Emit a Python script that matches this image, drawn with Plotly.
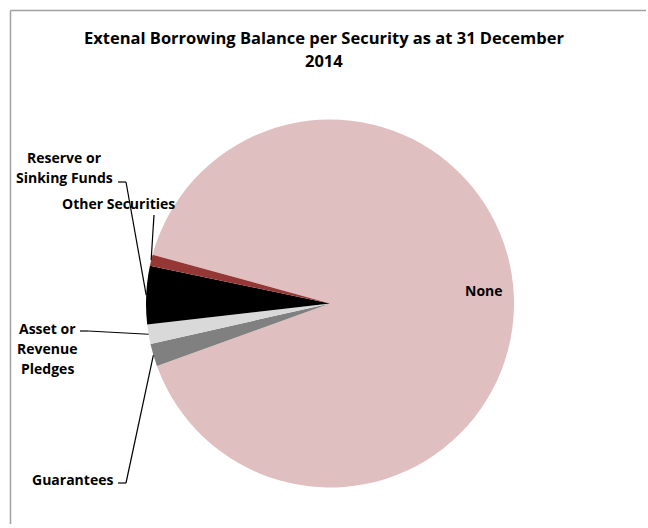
import math
import plotly.graph_objects as go

# Security categories and their share of the external borrowing balance (%)
categories = ["None", "Guarantees", "Asset or Revenue Pledges",
              "Reserve or Sinking Funds", "Other Securities"]
shares = [90.2, 2.0, 1.7, 5.1, 1.0]
colors = ["#E0BFC1", "#808080", "#D9D9D9", "#000000", "#953735"]

title_lines = ["Extenal Borrowing Balance per Security as at 31 December", "2014"]

W, H = 648, 528
FONT = "Open Sans"

# Pie geometry in pixels
CX, CY, R = 330.0, 303.5, 184.0
ROTATION = -74.6  # first slice starts here, degrees clockwise from 12 o'clock


def px(x, y):
    """Pixel position -> paper coordinates."""
    return x / W, 1 - y / H


def slice_edge_point(idx, frac=1.0):
    """Point on the rim at the mid-angle of slice idx (clockwise layout)."""
    total = sum(shares)
    start = ROTATION + 360.0 * sum(shares[:idx]) / total
    mid = start + 180.0 * shares[idx] / total
    a = math.radians(mid)
    return CX + frac * R * math.sin(a), CY - frac * R * math.cos(a)


fig = go.Figure(go.Pie(
    labels=categories,
    values=shares,
    sort=False,
    direction="clockwise",
    rotation=ROTATION,
    marker=dict(colors=colors, line=dict(width=0)),
    textinfo="none",
    hoverinfo="label+percent",
    showlegend=False,
    domain=dict(x=[(CX - R) / W, (CX + R) / W],
                y=[1 - (CY + R) / H, 1 - (CY - R) / H]),
))

annotations = []
shapes = []


def add_text(text, x, y, size=14):
    xp, yp = px(x, y)
    annotations.append(dict(
        text=f"<b>{text}</b>", x=xp, y=yp, xref="paper", yref="paper",
        showarrow=False, xanchor="center", yanchor="middle",
        font=dict(family=FONT, size=size, color="#000000")))


def add_line(points, color="#000000", width=1.2):
    for (x0, y0), (x1, y1) in zip(points[:-1], points[1:]):
        a0, b0 = px(x0, y0)
        a1, b1 = px(x1, y1)
        shapes.append(dict(type="line", xref="paper", yref="paper",
                           x0=a0, y0=b0, x1=a1, y1=b1,
                           line=dict(color=color, width=width)))


# Chart title
add_text(title_lines[0], 324, 37, size=16.5)
add_text(title_lines[1], 324, 61, size=16.5)

# Label inside the large slice
add_text(categories[0], 484, 290)

# Reserve or Sinking Funds
add_text("Reserve or", 64, 157)
add_text("Sinking Funds", 64, 177)
add_line([(118, 182), (126, 182), slice_edge_point(3)])

# Other Securities
add_text(categories[4], 118, 203)
add_line([(154, 215), slice_edge_point(4)])

# Asset or Revenue Pledges
add_text("Asset or", 47, 328)
add_text("Revenue", 47, 348)
add_text("Pledges", 47, 368)
add_line([(80, 331), (88, 331), slice_edge_point(2)])

# Guarantees
add_text(categories[1], 72, 479)
add_line([(118, 483), (126, 483), slice_edge_point(1)])

# Chart area frame (top and left edges), top edge drawn in short pieces
add_line([(10.5, H - 4), (10.5, 10.5)], color="#A0A0A0", width=1.5)
add_line([(10.5, 10.5), (220, 10.5), (430, 10.5), (W - 2, 10.5)],
         color="#A0A0A0", width=1.5)

fig.update_layout(
    width=W, height=H,
    margin=dict(l=0, r=0, t=0, b=0),
    paper_bgcolor="#FFFFFF",
    plot_bgcolor="#FFFFFF",
    annotations=annotations,
    shapes=shapes,
)

fig.write_html("out.html")
